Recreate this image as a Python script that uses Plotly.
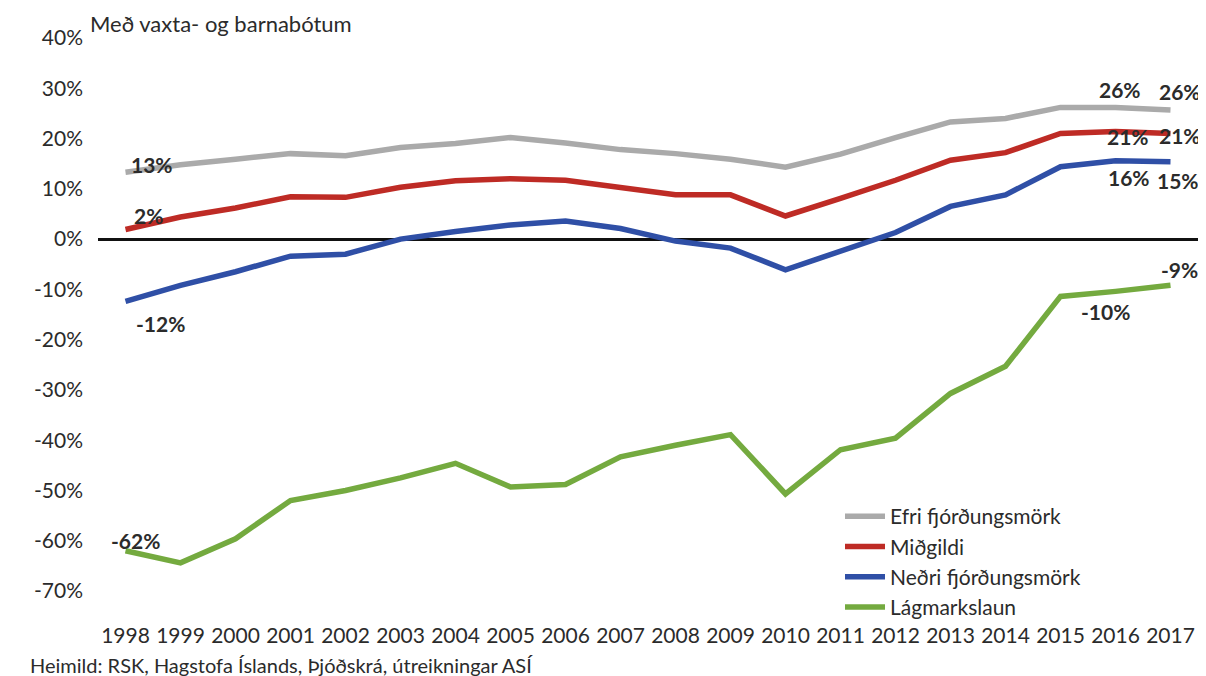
import plotly.graph_objects as go

years = list(range(1998, 2018))

efri = [13.3, 14.8, 15.9, 17.0, 16.6, 18.2, 19.0, 20.2, 19.1, 17.8,
        17.0, 15.9, 14.3, 16.9, 20.2, 23.3, 24.0, 26.2, 26.2, 25.7]
midgildi = [1.9, 4.4, 6.2, 8.4, 8.3, 10.3, 11.6, 12.0, 11.7, 10.3,
            8.8, 8.8, 4.6, 8.1, 11.7, 15.7, 17.2, 21.0, 21.4, 21.0]
nedri = [-12.4, -9.2, -6.5, -3.4, -3.0, 0.0, 1.5, 2.8, 3.6, 2.1,
         -0.4, -1.8, -6.1, -2.5, 1.3, 6.5, 8.8, 14.4, 15.6, 15.4]
lagmark = [-62.0, -64.4, -59.6, -52.0, -50.0, -47.5, -44.6, -49.3, -48.8, -43.3,
           -41.0, -38.9, -50.7, -41.9, -39.6, -30.7, -25.3, -11.4, -10.4, -9.2]

series_names = ["Efri fjórðungsmörk", "Miðgildi", "Neðri fjórðungsmörk", "Lágmarkslaun"]
series_values = [efri, midgildi, nedri, lagmark]
series_colors = ["#AAAAAA", "#BE2B25", "#2F4FA6", "#74AA3F"]

y_ticks = list(range(-70, 50, 10))
y_tick_labels = [f"{v}%" for v in y_ticks]

title_text = "Með vaxta- og barnabótum"
source_text = "Heimild: RSK, Hagstofa Íslands, Þjóðskrá, útreikningar ASÍ"

FONT = "Lato"
TXT = "#2b2b2b"

L, R, T, B = 90, 16, 30, 93
W, H = 1206, 676
PW, PH = W - L - R, H - T - B

fig = go.Figure()
for name, vals, col in zip(series_names, series_values, series_colors):
    fig.add_trace(go.Scatter(x=years, y=vals, name=name, mode="lines",
                             line=dict(color=col, width=5.5), hoverinfo="skip"))

# data labels: (series index, year index, xshift, yshift)
label_spec = [
    (0, 0, 26, 8), (1, 0, 23, 14), (2, 0, 35, -22), (3, 0, 10, 10),
    (0, 18, 4, 18), (0, 19, 9, 18),
    (1, 18, 12, -5), (1, 19, 9, -2),
    (2, 18, 13, -17), (2, 19, 7, -19),
    (3, 18, -10, -20), (3, 19, 9, 16),
]
for si, yi, xs, ys in label_spec:
    v = series_values[si][yi]
    fig.add_annotation(x=years[yi], y=v, xref="x", yref="y",
                       text=f"<b>{round(v):d}%</b>", showarrow=False,
                       xshift=xs, yshift=ys,
                       font=dict(family=FONT, size=21, color=TXT))

fig.add_annotation(x=(80 - L) / PW, y=(H - B - 0) / PH, xref="paper", yref="paper",
                   text=title_text, showarrow=False, xanchor="left", yanchor="top",
                   font=dict(family=FONT, size=22, color=TXT))

fig.add_annotation(x=(20 - L) / PW, y=-(657 - (H - B)) / PH, xref="paper", yref="paper",
                   text=source_text, showarrow=False, xanchor="left", yanchor="middle",
                   font=dict(family=FONT, size=20, color=TXT))

fig.update_layout(
    width=W, height=H,
    margin=dict(l=L, r=R, t=T, b=B),
    paper_bgcolor="white", plot_bgcolor="white",
    font=dict(family=FONT, color=TXT),
    showlegend=True,
    legend=dict(x=(832 - L) / PW, y=((H - B) - 488) / PH, xanchor="left", yanchor="top",
                font=dict(family=FONT, size=21, color=TXT),
                bgcolor="rgba(0,0,0,0)", tracegroupgap=0, itemwidth=40),
    xaxis=dict(range=[1997.5, 2017.5], tickmode="array", tickvals=years,
               ticktext=[str(y) for y in years], showgrid=False, zeroline=False,
               showline=False, ticks="", ticklabelstandoff=30,
               tickfont=dict(family=FONT, size=21, color=TXT)),
    yaxis=dict(range=[-70, 40], tickmode="array", tickvals=y_ticks, ticktext=y_tick_labels,
               showgrid=False, zeroline=True, zerolinecolor="#111111", zerolinewidth=2.5,
               showline=False, ticks="", ticklabelstandoff=14,
               tickfont=dict(family=FONT, size=21, color=TXT)),
)

fig.write_html("out.html")
